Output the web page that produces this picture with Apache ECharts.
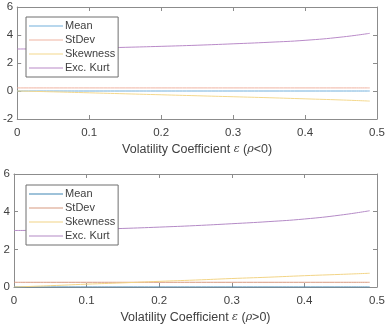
<!DOCTYPE html>
<html>
<head>
<meta charset="utf-8">
<script src="https://cdn.jsdelivr.net/npm/echarts@6/dist/echarts.min.js"></script>
<style>
  html, body { margin: 0; padding: 0; background: #fff; }
  #chart { width: 388px; height: 325px; }
</style>
</head>
<body>
<div id="chart"></div>
<script>
// volatility coefficient samples
const eps = [0, 0.05, 0.1, 0.15, 0.2, 0.25, 0.3, 0.35, 0.4, 0.45, 0.49];
const xTicks = [0, 0.1, 0.2, 0.3, 0.4, 0.5];

// rho < 0
const meanNeg = [0, 0, 0, 0, 0, 0, 0, 0, 0, 0, 0];
const stdNeg = [0.22, 0.22, 0.22, 0.22, 0.22, 0.22, 0.22, 0.22, 0.22, 0.22, 0.22];
const skewNeg = [0, -0.06, -0.13, -0.2, -0.27, -0.34, -0.41, -0.48, -0.56, -0.64, -0.72];
const kurtNeg = [3.0, 3.02, 3.06, 3.12, 3.19, 3.27, 3.37, 3.48, 3.62, 3.85, 4.12];

// rho > 0
const meanPos = [0, 0, 0, 0, 0, 0, 0, 0, 0, 0, 0];
const stdPos = [0.25, 0.25, 0.25, 0.25, 0.25, 0.25, 0.25, 0.25, 0.25, 0.25, 0.25];
const skewPos = [0, 0.07, 0.15, 0.22, 0.3, 0.37, 0.45, 0.52, 0.6, 0.67, 0.73];
const kurtPos = [3.0, 3.02, 3.06, 3.11, 3.18, 3.26, 3.36, 3.47, 3.61, 3.82, 4.05];

const names = ["Mean", "StDev", "Skewness", "Exc. Kurt"];
const colorsTop = ["#72b0dc", "#f0b4a2", "#f4d88c", "#b98ac8"];
const colorsBot = ["#3f86b4", "#d89a80", "#f2d486", "#b48ac6"];

const font = "Liberation Sans, Arial, Helvetica, sans-serif";
const txt = "#404040";
const axisCol = "#8c8c8c";

const pairs = (ys) => eps.map((e, i) => [e, ys[i]]);

const xName = (sign) => "Volatility Coefficient {g|ε} ({g|ρ}" + sign + "0)";

function xAxes(gi, sign) {
  return [
    {
      gridIndex: gi, type: "value", min: 0, max: 0.5, interval: 0.1,
      axisLine: { onZero: false, lineStyle: { color: axisCol } },
      axisTick: { inside: true, length: 4, lineStyle: { color: axisCol } },
      axisLabel: { color: txt, fontSize: 11.5, fontFamily: font, margin: 8,
        formatter: (v) => (xTicks.indexOf(v) >= 0 ? String(v) : "") },
      splitLine: { show: false },
      name: xName(sign), nameLocation: "middle", nameGap: 24,
      nameTextStyle: { color: txt, fontSize: 12.5, fontFamily: font,
        rich: { g: { fontFamily: "DejaVu Serif, serif", fontStyle: "italic", fontSize: 11, color: txt } } }
    },
    {
      gridIndex: gi, type: "value", min: 0, max: 0.5, interval: 0.1, position: "top",
      axisLine: { onZero: false, lineStyle: { color: axisCol } },
      axisTick: { inside: true, length: 4, lineStyle: { color: axisCol } },
      axisLabel: { show: false }, splitLine: { show: false }
    }
  ];
}

function yAxes(gi, min, max) {
  return [
    {
      gridIndex: gi, type: "value", min: min, max: max, interval: 2,
      axisLine: { show: true, onZero: false, lineStyle: { color: axisCol } },
      axisTick: { show: true, inside: true, length: 4, lineStyle: { color: axisCol } },
      axisLabel: { color: txt, fontSize: 11.5, fontFamily: font, margin: 4 },
      splitLine: { show: false }
    },
    {
      gridIndex: gi, type: "value", min: min, max: max, interval: 2, position: "right",
      axisLine: { show: true, onZero: false, lineStyle: { color: axisCol } },
      axisTick: { show: true, inside: true, length: 4, lineStyle: { color: axisCol } },
      axisLabel: { show: false }, splitLine: { show: false }
    }
  ];
}

function lines(xi, yi, sets, colors) {
  return sets.map((ys, k) => ({
    name: names[k], type: "line", xAxisIndex: xi, yAxisIndex: yi,
    data: pairs(ys), smooth: true, symbol: "none", silent: true,
    lineStyle: { color: colors[k], width: 1 }, itemStyle: { color: colors[k] }
  }));
}

function legend(top, colors) {
  return {
    orient: "vertical", left: 26, top: top, itemGap: 0, itemWidth: 34, itemHeight: 1,
    icon: "rect", padding: [2, 3, 2, 3], borderColor: "#6e6e6e", borderWidth: 1, backgroundColor: "#fff",
    selectedMode: false,
    textStyle: { color: txt, fontSize: 11, fontFamily: font, lineHeight: 14, padding: [0, 0, 0, -3] },
    data: names.map((n, k) => ({ name: n, itemStyle: { color: colors[k] } }))
  };
}

const myChart = echarts.init(document.getElementById("chart"), null, { renderer: "canvas" });

const option = {
  animation: false,
  grid: [
    { left: 14, right: 10, top: 7, height: 112 },
    { left: 14, right: 10, top: 174, height: 114 }
  ],
  xAxis: [...xAxes(0, "<"), ...xAxes(1, ">")],
  yAxis: [...yAxes(0, -2, 6), ...yAxes(1, 0, 6)],
  legend: [legend(17, colorsTop), legend(185, colorsBot)],
  series: [
    ...lines(0, 0, [meanNeg, stdNeg, skewNeg, kurtNeg], colorsTop),
    ...lines(2, 2, [meanPos, stdPos, skewPos, kurtPos], colorsBot)
  ]
};

option && myChart.setOption(option);
</script>
</body>
</html>
